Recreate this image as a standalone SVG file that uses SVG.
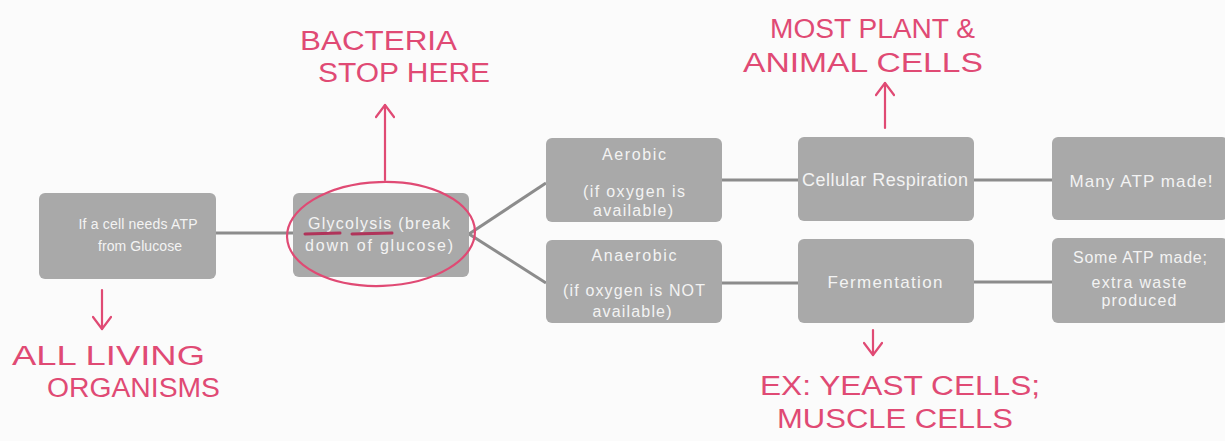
<svg xmlns="http://www.w3.org/2000/svg" width="1225" height="441" viewBox="0 0 1225 441">
<style>
.box{fill:#a9a9a9;}
.bt{font-family:"Liberation Sans",Arial,sans-serif;font-size:16px;fill:#f3f3f3;text-anchor:middle;}
.conn{stroke:#8c8c8c;stroke-width:3;fill:none;}
.ink{fill:#e04a74;font-family:"Liberation Sans",Arial,sans-serif;font-size:27px;}
.pen{stroke:#e04a74;stroke-width:2.2;fill:none;stroke-linecap:round;stroke-linejoin:round;}
</style>
<defs>
<marker id="chev" viewBox="0 0 20 20" refX="14" refY="10" markerWidth="20" markerHeight="20" markerUnits="userSpaceOnUse" orient="auto">
<path d="M2,1 L14,10 L2,19" fill="none" stroke="#e04a74" stroke-width="2.2" stroke-linecap="round" stroke-linejoin="round"/>
</marker>
</defs>
<rect width="1225" height="441" fill="#fbfbfb"/>
<g id="connectors">
<line class="conn" x1="216" y1="233" x2="293" y2="233"/>
<line class="conn" x1="469" y1="234" x2="546" y2="183"/>
<line class="conn" x1="469" y1="234" x2="546" y2="283"/>
<line class="conn" x1="722" y1="180" x2="798" y2="180"/>
<line class="conn" x1="722" y1="283" x2="798" y2="283"/>
<line class="conn" x1="974" y1="180" x2="1052" y2="180"/>
<line class="conn" x1="974" y1="282" x2="1052" y2="282"/>
</g>
<g id="n-start">
<rect class="box" x="39" y="193" width="177" height="86" rx="6"/>
<text class="bt" x="138" y="229" style="font-size:14px" textLength="119" lengthAdjust="spacing">If a cell needs ATP</text>
<text class="bt" x="140" y="251" style="font-size:14px" textLength="84" lengthAdjust="spacing">from Glucose</text>
</g>
<g id="n-glycolysis">
<rect class="box" x="293" y="193" width="176" height="84" rx="6"/>
<text class="bt" x="379" y="229" textLength="142" lengthAdjust="spacing">Glycolysis (break</text>
<text class="bt" x="379" y="251" textLength="148" lengthAdjust="spacing">down of glucose)</text>
</g>
<g id="n-aerobic">
<rect class="box" x="546" y="138" width="176" height="84" rx="6"/>
<text class="bt" x="634" y="160" textLength="64" lengthAdjust="spacing">Aerobic</text>
<text class="bt" x="634" y="197" textLength="102" lengthAdjust="spacing">(if oxygen is</text>
<text class="bt" x="633" y="216" textLength="80" lengthAdjust="spacing">available)</text>
</g>
<g id="n-anaerobic">
<rect class="box" x="546" y="240" width="176" height="83" rx="6"/>
<text class="bt" x="634" y="261" textLength="85" lengthAdjust="spacing">Anaerobic</text>
<text class="bt" x="634" y="296" textLength="142" lengthAdjust="spacing">(if oxygen is NOT</text>
<text class="bt" x="632" y="317" textLength="79" lengthAdjust="spacing">available)</text>
</g>
<g id="n-cellular">
<rect class="box" x="798" y="137" width="176" height="84" rx="6"/>
<text class="bt" x="885" y="186" style="font-size:18px" textLength="166" lengthAdjust="spacing">Cellular Respiration</text>
</g>
<g id="n-fermentation">
<rect class="box" x="798" y="239" width="176" height="84" rx="6"/>
<text class="bt" x="885" y="288" style="font-size:17px" textLength="115" lengthAdjust="spacing">Fermentation</text>
</g>
<g id="n-many">
<rect class="box" x="1052" y="137" width="176" height="83" rx="6"/>
<text class="bt" x="1141" y="187" style="font-size:17px" textLength="143" lengthAdjust="spacing">Many ATP made!</text>
</g>
<g id="n-some">
<rect class="box" x="1052" y="238" width="176" height="85" rx="6"/>
<text class="bt" x="1140" y="263" textLength="134" lengthAdjust="spacing">Some ATP made;</text>
<text class="bt" x="1139" y="288" textLength="95" lengthAdjust="spacing">extra waste</text>
<text class="bt" x="1139" y="306" textLength="75" lengthAdjust="spacing">produced</text>
</g>
<g id="annotations">
<ellipse class="pen" cx="381" cy="234" rx="94" ry="52" transform="rotate(-2 381 234)"/>
<line x1="305" y1="234" x2="340" y2="233" stroke="#b0345a" stroke-width="3" stroke-linecap="round"/>
<line x1="352" y1="234" x2="392" y2="233" stroke="#b0345a" stroke-width="3" stroke-linecap="round"/>
<line class="pen" x1="385" y1="180" x2="385" y2="105" marker-end="url(#chev)"/>
<line class="pen" x1="102" y1="290" x2="102" y2="329" marker-end="url(#chev)"/>
<line class="pen" x1="885" y1="128" x2="885" y2="83" marker-end="url(#chev)"/>
<line class="pen" x1="873" y1="330" x2="873" y2="355" marker-end="url(#chev)"/>
<text class="ink" x="300" y="50" textLength="157" lengthAdjust="spacingAndGlyphs">BACTERIA</text>
<text class="ink" x="318" y="82" textLength="172" lengthAdjust="spacingAndGlyphs">STOP HERE</text>
<text class="ink" x="12" y="365" textLength="193" lengthAdjust="spacingAndGlyphs">ALL LIVING</text>
<text class="ink" x="47" y="397" textLength="173" lengthAdjust="spacingAndGlyphs">ORGANISMS</text>
<text class="ink" x="770" y="38" textLength="205" lengthAdjust="spacingAndGlyphs">MOST PLANT &amp;</text>
<text class="ink" x="743" y="72" textLength="240" lengthAdjust="spacingAndGlyphs">ANIMAL CELLS</text>
<text class="ink" x="760" y="395" textLength="280" lengthAdjust="spacingAndGlyphs">EX: YEAST CELLS;</text>
<text class="ink" x="777" y="428" textLength="236" lengthAdjust="spacingAndGlyphs">MUSCLE CELLS</text>
</g>
</svg>
